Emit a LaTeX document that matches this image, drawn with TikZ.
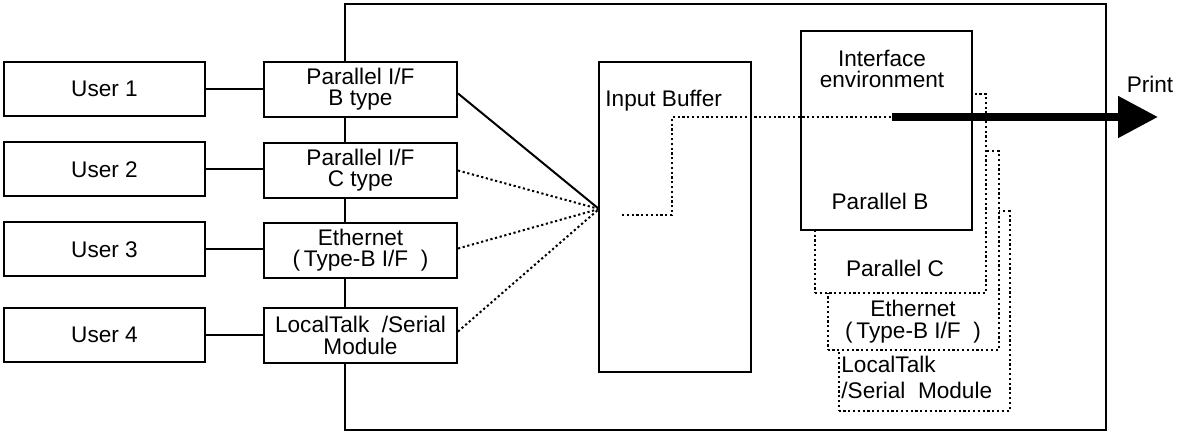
\documentclass[tikz,border=0pt]{standalone}
\usepackage{fontspec}
\setmainfont{Liberation Sans}
\usetikzlibrary{arrows.meta}

\begin{document}
\begin{tikzpicture}[%
x=0.5pt, y=-0.5pt,
every node/.style = {font=\fontsize{11.3}{10.6}\selectfont, inner sep=0pt, align=center},
userbox/.style = {draw, fill=white, line width=1pt, minimum width=100.5pt, minimum height=27pt},
ifbox/.style = {draw, fill=white, line width=1pt, minimum width=96.5pt, minimum height=27.5pt},
envbox/.style = {fill=white, line width=1pt, minimum width=85.5pt, minimum height=99.5pt},
dotline/.style = {line width=1pt, dash pattern=on 1.1pt off 1.3pt},
printarrow/.style = {line width=4pt, -{Triangle[length=20pt,width=20pt]}}
]
\useasboundingbox (0,0) rectangle (1181,432);

\node[draw, line width=1pt, minimum width=380.5pt, minimum height=213pt] (printer) at (725.5,217) {};

\node[envbox, dotline, draw] (envL) at (924,311) {};
\node[anchor=west, align=left, font=\fontsize{11.3}{13}\selectfont] (envLtxt) at (841,377) {LocalTalk\\/Serial\ \ Module};
\node[envbox, dotline, draw] (envE) at (913,250.5) {};
\node[font=\fontsize{11.3}{11}\selectfont] (envEtxt) at (913,322) {Ethernet\\(\,Type-B I/F\ \ )};
\node[envbox, dotline, draw] (envC) at (900.5,193.5) {};
\node (envCtxt) at (895,268) {Parallel C};
\node[envbox, draw] (envB) at (886.5,130.5) {};
\node[font=\fontsize{11.3}{10.8}\selectfont] (envtxt) at (882,69) {Interface\\environment};
\node (envBtxt) at (880,201) {Parallel B};

\node[draw, line width=1pt, minimum width=76pt, minimum height=155pt] (buffer) at (675,217) {};
\node[anchor=base west] (buftxt) at (605,107) {Input Buffer};

\node[userbox] (user1) at (104.5,89) {User 1};
\node[userbox] (user2) at (104.5,169.5) {User 2};
\node[userbox] (user3) at (104.5,249.5) {User 3};
\node[userbox] (user4) at (104.5,335) {User 4};

\node[ifbox] (if1) at (360.5,89.5) {Parallel I/F\\B type};
\node[ifbox] (if2) at (360.5,170.5) {Parallel I/F\\C type};
\node[ifbox] (if3) at (360.5,250.5) {Ethernet\\(\,Type-B I/F\ \ )};
\node[ifbox] (if4) at (360.5,335.5) {LocalTalk\ \ /Serial\\Module};

\draw[line width=1pt] (user1.east) -- (user1.east -| if1.west);
\draw[line width=1pt] (user2.east) -- (user2.east -| if2.west);
\draw[line width=1pt] (user3.east) -- (user3.east -| if3.west);
\draw[line width=1pt] (user4.east) -- (user4.east -| if4.west);

\coordinate (hub) at (599,209);
\draw[line width=1pt] ([yshift=-2pt]if1.east) -- (hub);
\draw[dotline] (if2.east) -- (hub);
\draw[dotline] ([yshift=1pt]if3.east) -- (hub);
\draw[dotline] ([yshift=2pt]if4.east) -- (hub);

\coordinate (bufin) at (622,215);
\coordinate (bend) at (672,117);
\coordinate (envin) at (892,117);
\coordinate (tip) at (1158,117);
\draw[dotline] (bufin) -| (bend) -- (envin);
\draw[printarrow] (envin) -- (tip);
\node (printlbl) at (1150,84) {Print};
\end{tikzpicture}
\end{document}
